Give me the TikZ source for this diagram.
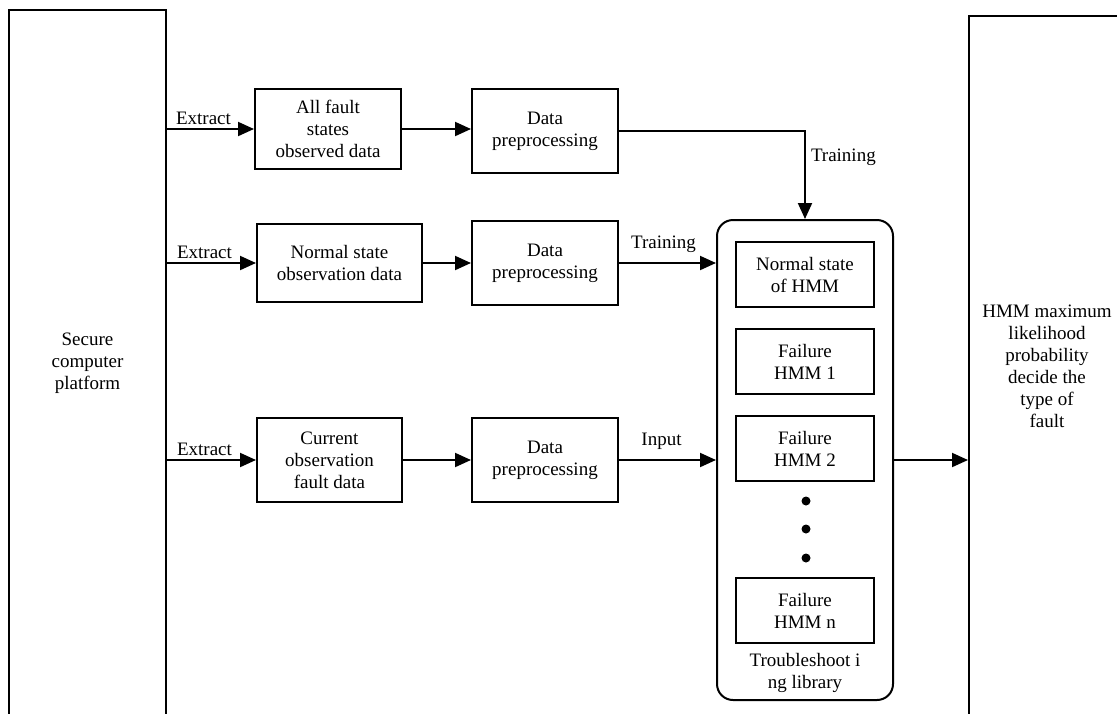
\documentclass[tikz,border=0pt]{standalone}
\usepackage{fontspec}
\setmainfont{Liberation Serif}
\usetikzlibrary{arrows.meta,calc}
\begin{document}
\begin{tikzpicture}[x=1pt,y=-1pt,
  every node/.style={font=\fontsize{19}{22}\selectfont},
  box/.style={draw,line width=2pt,align=center,inner sep=0pt},
  arr/.style={line width=2pt,-{Triangle[length=16pt,width=14pt]}},
  lbl/.style={inner sep=3pt}]
\useasboundingbox (0,0) rectangle (1117,713);
\clip (0,0) rectangle (1117,713);
% big side boxes
\node[box,minimum width=157pt,minimum height=706pt] (src) at (87.5,363) {Secure\\computer\\platform};
\node[box,minimum width=156pt,minimum height=700pt] (dst) at (1047,366) {HMM maximum\\likelihood\\probability\\decide the\\type of\\fault};
% row 1
\node[box,minimum width=146pt,minimum height=80pt] (b1) at (328,129) {All fault\\states\\observed data};
\node[box,minimum width=146pt,minimum height=84pt] (d1) at (545,131) {Data\\preprocessing};
% row 2
\node[box,minimum width=165pt,minimum height=78pt] (b2) at (339.5,263) {Normal state\\observation data};
\node[box,minimum width=146pt,minimum height=84pt] (d2) at (545,263) {Data\\preprocessing};
% row 3
\node[box,minimum width=145pt,minimum height=84pt] (b3) at (329.5,460) {Current\\observation\\fault data};
\node[box,minimum width=146pt,minimum height=84pt] (d3) at (545,460) {Data\\preprocessing};
% library
\node[box,rounded corners=16pt,minimum width=176pt,minimum height=480pt] (lib) at (805,460) {};
\node[box,minimum width=138pt,minimum height=65pt] (norm) at (805,274.5) {Normal state\\of HMM};
\node[box,minimum width=138pt,minimum height=65pt] (f1) at (805,361.5) {Failure\\HMM 1};
\node[box,minimum width=138pt,minimum height=65pt] (f2) at (805,448.5) {Failure\\HMM 2};
\node[box,minimum width=138pt,minimum height=65pt] (fn) at (805,610.5) {Failure\\HMM n};
\fill (806,501) circle (4.5pt) (806,529) circle (4.5pt) (806,558) circle (4.5pt);
\node[align=center] (liblbl) at (805,673) {Troubleshoot i\\ng library};
% connectors
\draw[arr] (src.east |- b1.west) -- (b1.west) node[lbl,midway,above,xshift=-7pt] {Extract};
\draw[arr] (src.east |- b2.west) -- (b2.west) node[lbl,midway,above,xshift=-7pt] {Extract};
\draw[arr] (src.east |- b3.west) -- (b3.west) node[lbl,midway,above,xshift=-7pt] {Extract};
\draw[arr] (b1.east) -- (b1.east -| d1.west);
\draw[arr] (b2.east) -- (b2.east -| d2.west);
\draw[arr] (b3.east) -- (d3.west);
\draw[arr] (d1.east) -| (lib.north) node[lbl,pos=0.65,right,xshift=2pt] {Training};
\draw[arr] (d2.east) -- (d2.east -| lib.west) node[lbl,midway,above,yshift=6pt,xshift=-4pt] {Training};
\draw[arr] (d3.east) -- (d3.east -| lib.west) node[lbl,midway,above,yshift=6pt,xshift=-6pt] {Input};
\draw[arr] (lib.east) -- (lib.east -| dst.west);
\end{tikzpicture}
\end{document}
